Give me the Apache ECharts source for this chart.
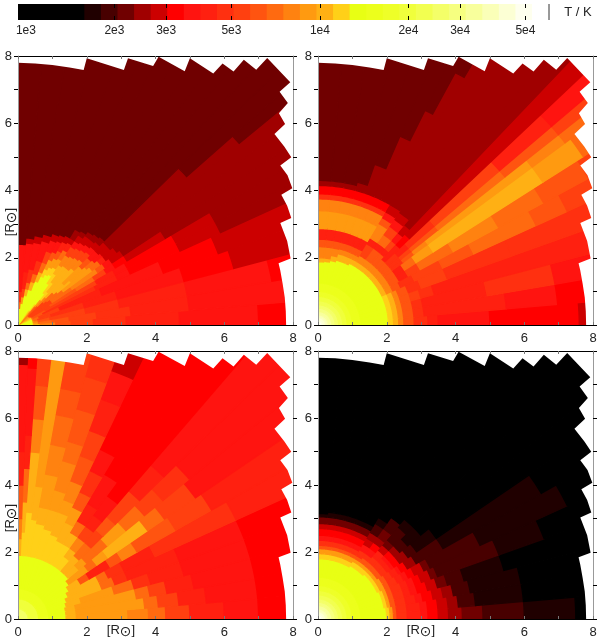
<!DOCTYPE html>
<html><head><meta charset="utf-8"><style>html,body{margin:0;padding:0;background:#fff}#c{width:600px;height:639px}</style>
<script src="https://cdn.jsdelivr.net/npm/echarts@6/dist/echarts.min.js"></script></head><body><div id="c"></div>
<script>
// Temperature bands of the colour bar (log10 T / K)
const bandLogStart = 2.973, bandLogWidth = 0.0564;
const bandColors = ['#000000','#000000','#000000','#000000','#200000','#480000','#700000','#a00000','#cc0000','#ff0000','#ff1410','#ff2010','#ff3010','#ff4010','#ff5410','#ff6a10','#ff8210','#ff9a10','#ffb014','#ffd018','#e8ff14','#ecff1c','#eeff28','#f0ff3c','#f2ff50','#f4ff68','#f6ff80','#f8ff9c','#faffb8','#fcffd4','#feffee'];
const barTicks = [1e3,2e3,3e3,5e3,1e4,2e4,3e4,5e4];
const barTickLabels = ['1e3','2e3','3e3','5e3','1e4','2e4','3e4','5e4'];
const axisTickLabels = [0,2,4,6,8];
// Outer boundary of the model grid in units of solar radii
const outlineX = [7.8,7.79,7.76,7.70,7.63,7.58,7.93,7.83,7.63,7.95,7.83,7.66,7.98,7.84,7.63,7.95,7.75,7.46,7.77,7.59,7.85,7.61,7.92,7.25,6.93,6.57,6.27,5.95,5.68,5.0,4.85,4.09,3.93,3.2,3.08,2.0,1.91,1.5,1.0,0.5,0,0,8.2,8.2];
const outlineY = [0,0.41,0.82,1.22,1.62,1.84,1.98,2.5,3.03,3.18,3.55,3.87,4.07,4.45,4.74,4.99,5.3,5.68,5.98,6.3,6.6,6.94,7.22,7.94,7.59,7.89,7.54,7.78,7.48,7.93,7.55,7.98,7.7,7.93,7.58,7.93,7.58,7.66,7.73,7.78,7.8,8.2,8.2,0];
// Inner hot core: radius limit, band
const core = [.12,30,.22,29,.3,28,.4,27,.5,26,.6,25,.72,24,.85,23,1,22,1.25,21];

// Each panel: angle edges (deg), and for each sector a flat list of radius limit, band
const edgesA = [0,5,10,15,20,25,28,31,34,37,40,42,45,48,51,54,57,60,63,66,70,75,80,85,90];
const panelA = [
[.45,20,.65,18,1.1,16,1.55,14,2.2,13,3.15,12,4.7,11,7,10,12,9],
[.45,20,.6,17,1,15,1.5,14,2.3,13,3.3,12,5,11,12,10],
[.45,20,.6,16,.95,14,2,13,3,12,5,11,7.5,10,12,9],
[.45,20,.6,15,1,13,2,12,3,11,5,10,6.5,9,12,8],
[.45,20,.65,15,1.3,13,2.6,11,4.5,10,6.2,9,12,8],
[.45,19,.8,14,2.5,12,3.2,11,3.6,10,5.2,9,6.5,8,12,7],
[.45,19,.9,14,2.6,13,3.2,11,3.6,10,5.2,9,6.5,8,12,7],
[.45,18,1.1,13,2,14,2.6,15,3,13,3.3,10,3.7,9,5,8,12,7],
[.42,18,1.2,13,1.9,15,2.3,16,2.8,16,3.05,14,3.3,10,3.7,8,12,7],
[.4,17,1.2,13,1.65,15,2.7,17,3,15,3.2,11,3.6,8,12,7],
[.4,17,1.1,13,1.5,15,2,18,2.6,17,2.9,15,3.2,10,3.5,8,8.4,7,12,6],
[.4,16,1,13,1.4,15,1.8,18,2.5,17,2.85,14,3.15,10,3.5,8,6.6,7,12,6],
[.4,16,.8,14,1.15,16,2.3,18,2.65,16,2.95,13,3.15,10,3.35,8,3.55,7,12,6],
[.45,16,.75,15,1,17,1.3,19,2.2,18,2.6,16,2.9,13,3.1,10,3.3,8,3.5,7,12,6],
[.55,18,.8,19,1.2,20,1.6,19,2.2,18,2.55,16,2.85,13,3.05,10,3.3,8,3.45,7,12,6],
[.55,19,1.5,20,1.85,19,2.15,18,2.5,16,2.8,13,3,10,3.2,8,3.35,7,12,6],
[1.75,20,2,19,2.3,17,2.6,15,2.85,11,3,8,3.3,7,12,6],
[1.7,20,1.95,19,2.25,17,2.5,14,2.8,11,3,8,12,6],
[1.6,20,1.85,19,2.15,17,2.4,14,2.75,10,2.95,8,12,6],
[1.4,20,1.7,18,2,15,2.35,13,2.7,10,2.9,8,12,6],
[1.1,20,1.35,18,1.6,15,2,12,2.6,10,2.8,8,12,6],
[.9,20,1.1,18,1.3,15,1.7,12,2.5,10,2.7,8,12,6],
[.65,20,.85,17,1.1,13,1.6,11,2.45,10,2.6,8,12,6],
[.5,20,.7,15,1,12,2.4,10,12,6]];

const edgesB = [0,5,10,15,20,25,29,33,37,39,41,44,47,50,55,60,62,64,67,71,75,80,85,90];
const panelB = [
[2.05,20,2.2,19,2.35,18,2.5,16,2.8,14,3.2,12,3.5,11,5,10,7.6,9,12,8],
[2.05,20,2.2,19,2.35,18,2.5,16,2.8,14,3.1,12,5.5,11,7,10,12,9],
[2.05,20,2.2,19,2.35,18,2.5,16,2.8,14,3.1,12,5,11,7,12,12,10],
[2.05,20,2.2,19,2.35,18,2.5,16,2.8,14,3.1,13,3.5,12,12,11],
[2.05,20,2.2,19,2.35,18,2.5,16,2.8,14,3.2,12,4,13,6,12,12,12],
[2.05,20,2.2,18,2.4,16,2.65,14,3.1,12,4,13,5,14,7,15,8,14,12,13],
[2.05,20,2.2,18,2.4,16,2.7,14,3,11,3.4,13,4.5,15,6,16,7.5,15,9,14,12,13],
[2.05,20,2.2,18,2.4,16,2.7,14,3,11,3.4,15,4,17,7.8,18,9.2,17,12,15],
[2.05,20,2.2,18,2.4,16,2.7,14,3.1,12,3.5,14,4,16,7.8,17,9,16,12,15],
[2.05,20,2.2,18,2.4,16,2.7,14,3.1,12,3.5,13,4.5,14,7,15,9,14,12,13],
[2.05,20,2.2,18,2.4,16,2.7,14,3.1,12,3.5,11,4.5,12,7,13,9,11,12,10],
[2.05,20,2.2,18,2.4,16,2.7,14,3.3,11,3.7,9,12,8],
[2.05,20,2.2,18,2.4,16,2.8,14,3,11,3.3,13,3.6,10,3.9,8,12,7],
[2.05,20,2.2,18,2.4,16,2.8,14,3,11,3.3,15,3.6,13,3.85,10,4.1,8,12,7],
[2.05,20,2.2,18,2.4,16,2.8,13,3,11,3.5,16,3.7,14,3.9,10,4.15,8,12,7],
[2.05,20,2.2,18,2.35,16,2.55,14,2.87,11,3.4,17,3.75,16,3.9,12,4.15,9,8.5,7,12,6],
[2.05,20,2.2,18,2.35,16,2.55,14,2.87,11,3.4,17,3.75,16,3.9,12,4.15,9,7.1,7,12,6],
[2,20,2.2,18,2.35,16,2.55,14,2.87,11,3.4,17,3.75,16,3.9,12,4.15,9,6.1,7,12,6],
[2,20,2.2,18,2.35,16,2.55,14,2.87,11,3.4,17,3.75,16,3.9,12,4.15,9,5.05,7,12,6],
[2,20,2.2,18,2.35,16,2.55,14,2.87,11,3.4,17,3.75,16,3.9,12,4.15,9,4.4,7,12,6],
[1.95,20,2.1,18,2.33,16,2.55,14,2.87,11,3.4,17,3.75,16,3.9,12,4.15,9,4.3,7,12,6],
[1.9,20,2,18,2.33,16,2.55,14,2.87,11,3.4,17,3.75,16,3.9,12,4.15,9,4.3,7,12,6],
[1.88,20,2,18,2.33,16,2.55,14,2.87,11,3.4,17,3.75,16,3.9,12,4.15,9,4.3,7,12,6]];

const edgesC = [0,5,10,15,20,25,30,35,40,45,50,55,60,65,70,75,80,83,86,88,90];
const panelC = [
[.3,26,.6,24,.9,22,1.4,20,1.7,18,3.2,17,3.8,16,4.3,15,5,13,6,11,7,10,12,9],
[.3,25,.6,23,.9,21,1.4,20,1.7,18,3.7,17,4.1,15,4.7,13,5.5,11,7,10,12,9],
[.3,25,.6,23,.9,21,1.4,20,1.7,18,3.5,17,3.9,15,4.4,13,5.2,11,7,10,12,9],
[.3,25,.6,23,.9,21,1.45,20,1.9,18,2.9,17,3.5,15,4,12,5,11,7,10,12,9],
[.3,25,.6,23,.9,21,1.5,20,2.6,18,3,15,3.4,12,5,11,7,10,12,9],
[.3,25,.6,23,.9,21,1.6,20,2.6,18,2.9,15,3.4,12,4.4,11,7,12,12,11],
[.3,25,.6,23,.9,21,1.7,20,2.1,18,2.4,14,3.1,11,3.5,14,4,16,5.3,14,6.5,13,12,11],
[.3,25,.6,23,.9,21,1.8,20,2.5,17,2.8,15,3.2,17,4.6,18,5.2,15,6.3,13,12,10],
[.3,25,.6,23,.9,21,1.9,20,2.3,18,2.6,17,3,15,3.4,15,4.1,17,4.8,15,5.5,13,6.5,12,12,10],
[.3,25,.6,23,.9,21,1.9,20,2.5,18,3,15,3.5,13,4,14,5,13,6,11,12,10],
[.3,25,.6,23,.9,21,1.9,20,2.3,19,2.6,18,3,16,3.4,13,3.8,11,4.5,10,12,9],
[.3,25,.6,23,.9,21,1.9,20,2.6,19,3,18,3.4,15,4,11,5,10,12,9],
[.3,25,.6,23,.9,21,1.9,20,2.6,19,3.2,18,3.7,17,4.2,14,4.9,12,5.6,10,12,9],
[.3,25,.6,23,.9,21,1.9,20,2.7,19,3.4,18,3.8,17,4.4,16,5.2,14,6,13,7,11,7.9,10,12,8],
[.3,25,.6,23,.9,21,1.9,20,2.8,19,3.4,18,4,17,4.9,16,5.5,15,6.5,14,7.5,13,12,12],
[.3,25,.6,23,.9,21,1.9,20,2.9,19,3.4,18,4.4,17,5.3,16,6.2,15,7,14,12,13],
[.3,25,.6,23,.9,21,1.9,20,3,19,4,18,12,17],
[.3,25,.6,23,.9,21,1.9,20,3.2,19,5,18,6,16,7,14,12,13],
[.3,25,.6,23,.9,21,1.9,20,2.6,19,3.5,18,4.5,15,5.5,11,7.5,10,12,9],
[.3,25,.6,23,.9,21,1.9,20,2.4,18,3,16,4,14,5,11,7.6,10,12,7]];

const edgesD = [0,5,10,15,20,25,30,35,40,45,50,55,60,65,70,75,80,85,90];
const panelD = [
[2,20,2.1,19,2.2,17,2.3,14,2.6,12,3,11,3.2,10,3.5,9,3.8,8,4.2,7,4.8,6,6,5,7.5,4,12,0],
[2,20,2.1,19,2.2,17,2.3,14,2.6,12,3,11,3.2,10,3.5,9,3.8,8,4.1,7,4.6,5,6,4,12,0],
[1.95,20,2.05,19,2.15,17,2.3,14,2.6,12,2.9,11,3.1,10,3.4,9,3.7,8,4,7,4.5,5,6,4,12,0],
[1.95,20,2.05,19,2.15,17,2.3,14,2.6,12,2.8,11,3,10,3.3,9,3.6,8,3.9,6,4.4,5,5.6,4,12,0],
[1.95,20,2.05,19,2.15,17,2.3,14,2.6,12,2.8,11,3,10,3.2,9,3.5,8,3.7,6,5.6,5,7,4,12,0],
[1.9,20,2,19,2.15,17,2.3,14,2.55,12,2.75,11,2.9,10,3.1,9,3.4,8,3.6,6,5.2,5,8,4,12,0],
[1.9,20,2,19,2.15,17,2.3,14,2.5,12,2.7,11,2.8,10,3,9,3.3,7,4.2,5,7.5,4,12,0],
[1.9,20,2,19,2.1,17,2.25,14,2.45,12,2.6,11,2.7,10,2.9,9,3.2,7,3.5,5,4.2,4,12,0],
[1.9,20,2,19,2.1,17,2.25,14,2.45,12,2.6,11,2.7,10,2.9,9,3.1,7,3.4,5,3.9,4,12,0],
[1.85,20,2,19,2.1,17,2.25,14,2.45,12,2.7,11,2.9,8,3.1,6,3.6,5,3.9,4,12,0],
[1.85,20,2,19,2.1,17,2.25,14,2.4,12,2.6,10,2.8,9,3,7,3.3,6,3.7,5,12,0],
[1.85,20,2,19,2.1,17,2.2,14,2.4,12,2.6,10,2.8,8,3,7,3.3,5,3.5,4,12,0],
[1.8,20,1.95,19,2.1,17,2.2,14,2.35,12,2.5,10,2.7,9,2.85,8,3.05,6,3.2,4,12,0],
[1.8,20,1.95,19,2.1,17,2.2,14,2.35,12,2.5,10,2.7,9,2.85,8,3.05,6,3.2,4,12,0],
[1.8,20,1.95,19,2.1,17,2.2,14,2.35,12,2.5,10,2.7,9,2.85,8,3.05,6,3.2,4,12,0],
[1.8,20,1.95,19,2.1,17,2.2,14,2.35,12,2.5,10,2.7,9,2.85,8,3.05,6,3.2,4,12,0],
[1.8,20,1.95,19,2.1,17,2.2,14,2.35,12,2.5,10,2.7,9,2.85,8,3.05,6,3.2,4,12,0],
[1.8,20,1.95,19,2.1,17,2.2,14,2.35,12,2.5,10,2.7,9,2.85,8,3.05,6,3.15,4,12,0]];

const panels = [
  {edges:edgesA, runs:panelA, core:[], left:18, top:56},
  {edges:edgesB, runs:panelB, core:core, left:318, top:56},
  {edges:edgesC, runs:panelC, core:[], left:18, top:351},
  {edges:edgesD, runs:panelD, core:core, left:318, top:351}];
const panelW = 275, panelH = 269;

function rows(p){
  const out = [];
  p.runs.forEach((sector,i)=>{
    const list = p.core.concat(sector);
    let r0 = 0;
    for(let k=0;k<list.length;k+=2){
      out.push([p.edges[i],p.edges[i+1],r0,list[k],list[k+1]]);
      r0 = list[k];
    }
  });
  return out;
}
function cellItem(params,api){
  const t0=api.value(0),t1=api.value(1),r0=api.value(2),r1=api.value(3),c=bandColors[api.value(4)];
  const pts=[], n=Math.max(1,Math.ceil(t1-t0));
  const at=(r,t)=>api.coord([r*Math.cos(t*Math.PI/180),r*Math.sin(t*Math.PI/180)]);
  for(let i=0;i<=n;i++) pts.push(at(r1,t0+(t1-t0)*i/n));
  for(let i=n;i>=0;i--) pts.push(at(r0,t0+(t1-t0)*i/n));
  return {type:'polygon',shape:{points:pts},style:{fill:c,stroke:c,lineWidth:1.3}};
}
function maskItem(params,api){
  const pts=outlineX.map((x,i)=>api.coord([x,outlineY[i]]));
  return {type:'polygon',shape:{points:pts},style:{fill:'#fff'}};
}
const font='"Liberation Sans",Arial,sans-serif';
const grid=[], xAxis=[], yAxis=[], series=[];
const labelStyle={fontFamily:font,fontSize:13,color:'#222'};
panels.forEach((p,i)=>{
  grid.push({left:p.left,top:p.top,width:panelW,height:panelH});
  const tickS={show:true,inside:true,length:3,lineStyle:{color:'#777',width:1}};
  const fmt=v=>axisTickLabels.includes(v)?String(v):'';
  xAxis.push({type:'value',gridIndex:i,min:0,max:8,interval:1,position:'bottom',z:10,axisLine:{show:true,onZero:false,lineStyle:{color:'#000',width:1}},axisTick:tickS,splitLine:{show:false},
    axisLabel:{show:true,margin:7,formatter:fmt,...labelStyle,showMinLabel:true,showMaxLabel:true,hideOverlap:false}});
  xAxis.push({type:'value',gridIndex:i,min:0,max:8,interval:1,position:'top',z:10,axisLine:{show:true,onZero:false,lineStyle:{color:'#000',width:1}},axisTick:tickS,splitLine:{show:false},axisLabel:{show:false}});
  const ytick={show:true,inside:false,length:4,lineStyle:{color:'#000',width:1}};
  yAxis.push({type:'value',gridIndex:i,min:0,max:8,interval:1,position:'left',z:10,axisLine:{show:true,onZero:false,lineStyle:{color:'#999',width:1}},axisTick:ytick,splitLine:{show:false},
    axisLabel:{show:true,margin:6,formatter:fmt,...labelStyle,showMinLabel:true,showMaxLabel:true,hideOverlap:false}});
  yAxis.push({type:'value',gridIndex:i,min:0,max:8,interval:1,position:'right',z:10,axisLine:{show:true,onZero:false,lineStyle:{color:'#999',width:1}},axisTick:ytick,splitLine:{show:false},axisLabel:{show:false}});
  series.push({type:'custom',xAxisIndex:2*i,yAxisIndex:2*i,clip:true,z:2,silent:true,animation:false,renderItem:cellItem,data:rows(p)});
  series.push({type:'custom',xAxisIndex:2*i,yAxisIndex:2*i,clip:true,z:3,silent:true,animation:false,renderItem:maskItem,data:[[0,0]]});
});
// Colour bar
const barGrid=4, logTicks=barTicks.map(v=>Math.log10(v));
const barLo=bandLogStart, barHi=bandLogStart+bandLogWidth*bandColors.length;
grid.push({left:18,top:4,width:514,height:16});
xAxis.push({type:'value',gridIndex:barGrid,min:barLo,max:barHi,position:'bottom',z:10,axisLine:{show:false},splitLine:{show:false},
  axisTick:{show:true,inside:true,length:4,customValues:logTicks,lineStyle:{color:'#000'}},
  axisLabel:{show:true,margin:5,customValues:logTicks,formatter:v=>barTickLabels[logTicks.findIndex(t=>Math.abs(t-v)<1e-6)]||'',...labelStyle,fontSize:12}});
xAxis.push({type:'value',gridIndex:barGrid,min:barLo,max:barHi,position:'top',z:10,axisLine:{show:false},splitLine:{show:false},
  axisTick:{show:true,inside:true,length:4,customValues:logTicks,lineStyle:{color:'#000'}},axisLabel:{show:false}});
yAxis.push({type:'value',gridIndex:barGrid,min:0,max:1,show:false});
series.push({type:'custom',xAxisIndex:8,yAxisIndex:8,clip:true,silent:true,animation:false,
  renderItem:(params,api)=>{const a=api.coord([api.value(0),1]),b=api.coord([api.value(1),0]),c=bandColors[api.value(2)];
    return {type:'rect',shape:{x:a[0],y:a[1],width:b[0]-a[0]+1,height:b[1]-a[1]},style:{fill:c}};},
  data:bandColors.map((c,i)=>[barLo+i*bandLogWidth,barLo+(i+1)*bandLogWidth,i])});
const sun=(x,y,rot)=>({type:'text',x,y,rotation:rot,z:20,style:{text:'[R{s|⊙}]',align:'center',verticalAlign:'middle',font:'13px "Liberation Sans"',fill:'#222',
  rich:{s:{fontFamily:'DejaVu Sans',fontSize:14,fill:'#222',padding:[5,0,0,0]}}}});
const graphic=[
  sun(10,222,Math.PI/2), sun(10,518,Math.PI/2), sun(121,630,0), sun(421,630,0),
  {type:'line',shape:{x1:549,y1:4,x2:549,y2:20},style:{stroke:'#333',lineWidth:1}},
  {type:'text',x:578,y:12,style:{text:'T / K',align:'center',verticalAlign:'middle',font:'13px "Liberation Sans"',fill:'#222'}}];
const chart=echarts.init(document.getElementById('c'),null,{renderer:'canvas'});
chart.setOption({animation:false,backgroundColor:'#fff',grid,xAxis,yAxis,series,graphic});
</script></body></html>
